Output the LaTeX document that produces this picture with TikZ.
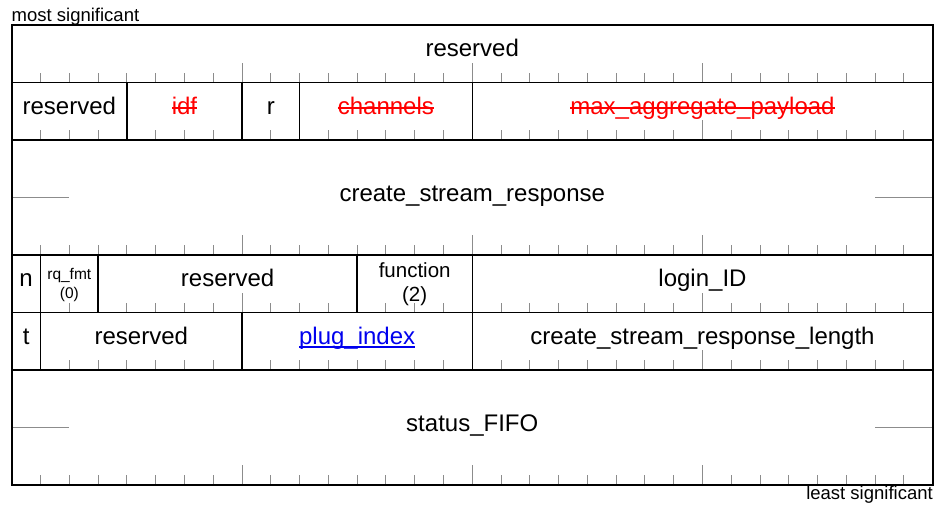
\documentclass[tikz,border=0pt]{standalone}
\usepackage{fontspec}
\setmainfont{Liberation Sans}
\definecolor{tickgray}{RGB}{140,140,140}
\definecolor{strikered}{RGB}{255,0,0}
\definecolor{linkblue}{RGB}{0,0,238}
\tikzset{
  tickline/.style={draw=tickgray, line width=1pt},
  frame/.style={draw=black, line width=1.5pt},
  lbl/.style={inner sep=0pt, outer sep=0pt, anchor=base, font=\fontsize{24}{28}\selectfont},
  midlbl/.style={inner sep=0pt, outer sep=0pt, anchor=base, font=\fontsize{20.5}{24}\selectfont},
  smalllbl/.style={inner sep=0pt, outer sep=0pt, anchor=base, font=\fontsize{15.5}{19}\selectfont},
  edgelbl/.style={inner sep=0pt, outer sep=0pt, font=\fontsize{18.5}{22}\selectfont},
  struck/.style={lbl, text=strikered},
  strikeline/.style={draw=strikered, line width=1.8pt},
  linklbl/.style={lbl, text=linkblue},
  linkline/.style={draw=linkblue, line width=1.6pt}
}
\begin{document}
\begin{tikzpicture}[x=28.78125pt, y=-1pt, shift={(11.75pt,0pt)}]
\useasboundingbox (-11.75pt,0pt) rectangle (923.25pt,-504pt);

% bit ticks at the bottom of every row
\foreach \yb in {82.5,140,255,312.5,370,485} {
  \foreach \b in {1,...,31} {
    \pgfmathsetmacro\len{mod(\b,8)==0 ? 20 : 10}
    \draw[tickline] (\b,\yb) -- (\b,\yb-\len);
  }
}
% side marks of the double-height rows
\foreach \ym in {197.5,427.5} {
  \draw[tickline] (0,\ym) -- (2,\ym);
  \draw[tickline] (30,\ym) -- (32,\ym);
}

% frame and row lines
\draw[frame] (0,25) rectangle (32,485);
\foreach \yh in {82.5,140,255,312.5,370} {
  \draw[frame] (0,\yh) -- (32,\yh);
}
% field boundaries
\foreach \b in {4,8,10,16} { \draw[frame] (\b,82.5) -- (\b,140); }
\foreach \b in {1,3,12,16} { \draw[frame] (\b,255) -- (\b,312.5); }
\foreach \b in {1,8,16} { \draw[frame] (\b,312.5) -- (\b,370); }

% edge labels
\node[edgelbl, anchor=base west] (msb) at (0,21.5) {most significant};
\node[edgelbl, anchor=base east] (lsb) at (32,499) {least significant};

% row 1
\node[lbl] (res1) at (16,56.5) {reserved};

% row 2
\node[lbl] (res2) at (2,114) {reserved};
\node[struck] (idf) at (6,114) {idf};
\node[lbl] (r) at (9,114) {r};
\node[struck] (chan) at (13,114) {channels};
\node[struck] (maxagg) at (24,114) {max\_aggregate\_payload};
\foreach \n in {idf,chan,maxagg} {
  \draw[strikeline] ([yshift=6pt]\n.base west) -- ([yshift=6pt]\n.base east);
}

% row 3
\node[lbl] (csr) at (16,201.5) {create\_stream\_response};

% row 4
\node[lbl] (n) at (0.5,286.5) {n};
\node[smalllbl] (rqfmt) at (2,279) {rq\_fmt};
\node[smalllbl] (rqval) at (2,298) {(0)};
\node[lbl] (res4) at (7.5,286.5) {reserved};
\node[midlbl] (func) at (14,277.5) {function};
\node[midlbl] (funcval) at (14,301.5) {(2)};
\node[lbl] (login) at (24,286.5) {login\_ID};

% row 5
\node[lbl] (t) at (0.5,344) {t};
\node[lbl] (res5) at (4.5,344) {reserved};
\node[linklbl] (plug) at (12,344) {plug\_index};
\draw[linkline] ([yshift=-3pt]plug.base west) -- ([yshift=-3pt]plug.base east);
\node[lbl] (csrl) at (24,344) {create\_stream\_response\_length};

% row 6
\node[lbl] (fifo) at (16,431.5) {status\_FIFO};
\end{tikzpicture}
\end{document}
